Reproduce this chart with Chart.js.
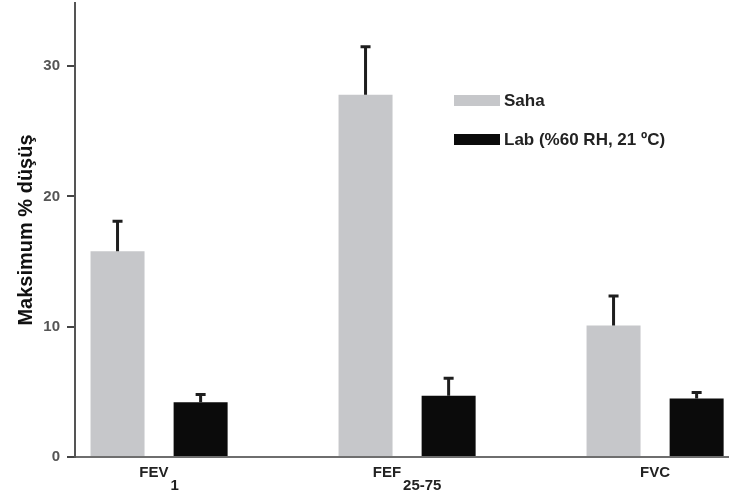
<!DOCTYPE html>
<html>
<head>
<meta charset="utf-8">
<script src="https://cdn.jsdelivr.net/npm/chart.js@4.4.1/dist/chart.umd.min.js"></script>
<style>
  body { margin: 0; background: #fff; }
  #wrap { width: 729px; height: 495px; }
</style>
</head>
<body>
<div id="wrap"><canvas id="chart"></canvas></div>
<script>
// values
const catMain = ['FEV', 'FEF', 'FVC'];
const catSub  = ['1', '25-75', ''];
const sahaVals = [15.8, 27.8, 10.1];
const sahaErr  = [2.3, 3.7, 2.25];
const labVals  = [4.2, 4.7, 4.5];
const labErr   = [0.6, 1.35, 0.45];
const yTicks   = [0, 10, 20, 30];

const FONT = "'Liberation Sans', Arial, sans-serif";

/* ================= PLUGINS ================= */
const errorBars = {
  id: 'errorBars',
  afterDatasetsDraw(chart) {
    const ctx = chart.ctx;
    const y = chart.scales.y;
    ctx.save();
    ctx.strokeStyle = '#1e1e1e';
    ctx.lineWidth = 3;
    chart.data.datasets.forEach((ds, di) => {
      const meta = chart.getDatasetMeta(di);
      meta.data.forEach((bar, i) => {
        const top = y.getPixelForValue(ds.data[i].y + ds.err[i]);
        ctx.beginPath();
        ctx.moveTo(bar.x, bar.y);
        ctx.lineTo(bar.x, top);
        ctx.moveTo(bar.x - 5, top);
        ctx.lineTo(bar.x + 5, top);
        ctx.stroke();
      });
    });
    ctx.restore();
  }
};

const groupLabels = {
  id: 'groupLabels',
  afterDraw(chart) {
    const ctx = chart.ctx;
    const x = chart.scales.x;
    const base = chart.chartArea.bottom;
    ctx.save();
    ctx.font = 'bold 15px ' + FONT;
    ctx.fillStyle = '#222';
    ctx.textBaseline = 'alphabetic';
    ctx.textAlign = 'left';
    catMain.forEach((m, i) => {
      const wm = ctx.measureText(m).width;
      const ws = catSub[i] ? ctx.measureText(catSub[i]).width + 2 : 0;
      const cx = x.getPixelForValue(i);
      const start = cx - (wm + ws) / 2;
      ctx.fillText(m, start, base + 20);
      if (catSub[i]) ctx.fillText(catSub[i], start + wm + 2, base + 33);
    });
    ctx.restore();
  }
};

const boxLegend = {
  id: 'boxLegend',
  afterDraw(chart) {
    const ctx = chart.ctx;
    ctx.save();
    ctx.font = 'bold 17px ' + FONT;
    ctx.textBaseline = 'middle';
    chart.data.datasets.forEach((ds, i) => {
      const top = 95 + i * 39;
      ctx.fillStyle = ds.backgroundColor;
      ctx.fillRect(454, top, 46, 11);
      ctx.fillStyle = '#222';
      ctx.fillText(ds.label, 504, top + 6);
    });
    ctx.restore();
  }
};

/* ================= CHART ================= */
new Chart(document.getElementById('chart'), {
  type: 'bar',
  data: {
    datasets: [{
      label: 'Saha',
      data: sahaVals.map((v, i) => ({ x: i, y: v })),
      err: sahaErr,
      backgroundColor: '#c6c7ca'
    }, {
      label: 'Lab (%60 RH, 21 ºC)',
      data: labVals.map((v, i) => ({ x: i, y: v })),
      err: labErr,
      backgroundColor: '#0b0b0b'
    }]
  },
  options: {
    responsive: true,
    maintainAspectRatio: false,
    animation: false,
    categoryPercentage: 0.67,
    barPercentage: 0.65,
    layout: { padding: { top: 3, right: 0, bottom: 38, left: 0 } },
    plugins: {
      legend: { display: false },
      tooltip: { enabled: false }
    },
    scales: {
      x: {
        type: 'linear',
        offset: false,
        bounds: 'data',
        min: -0.339,
        max: 2.298,
        afterBuildTicks: s => { s.ticks = catMain.map((c, i) => ({ value: i })); },
        afterFit: s => { s.height = 0; s.paddingLeft = 0; s.paddingRight = 0; },
        ticks: { display: false },
        grid: { display: false, offset: false },
        border: { color: '#6e6e6e', width: 2 }
      },
      y: {
        min: 0,
        max: 34.85,
        afterBuildTicks: s => { s.ticks = yTicks.map(v => ({ value: v })); },
        afterFit: s => { s.width = 75; s.paddingTop = 0; s.paddingBottom = 0; },
        ticks: {
          padding: 7,
          color: '#555',
          font: { family: FONT, size: 15, weight: 'bold' }
        },
        grid: {
          drawOnChartArea: false,
          drawTicks: true,
          tickLength: 8,
          color: '#444',
          lineWidth: 2
        },
        border: { color: '#555', width: 2 },
        title: {
          display: true,
          text: 'Maksimum % düşüş',
          color: '#111',
          padding: { top: 14, bottom: 0 },
          font: { family: FONT, size: 20, weight: 'bold' }
        }
      }
    }
  },
  plugins: [errorBars, groupLabels, boxLegend]
});
</script>
</body>
</html>
